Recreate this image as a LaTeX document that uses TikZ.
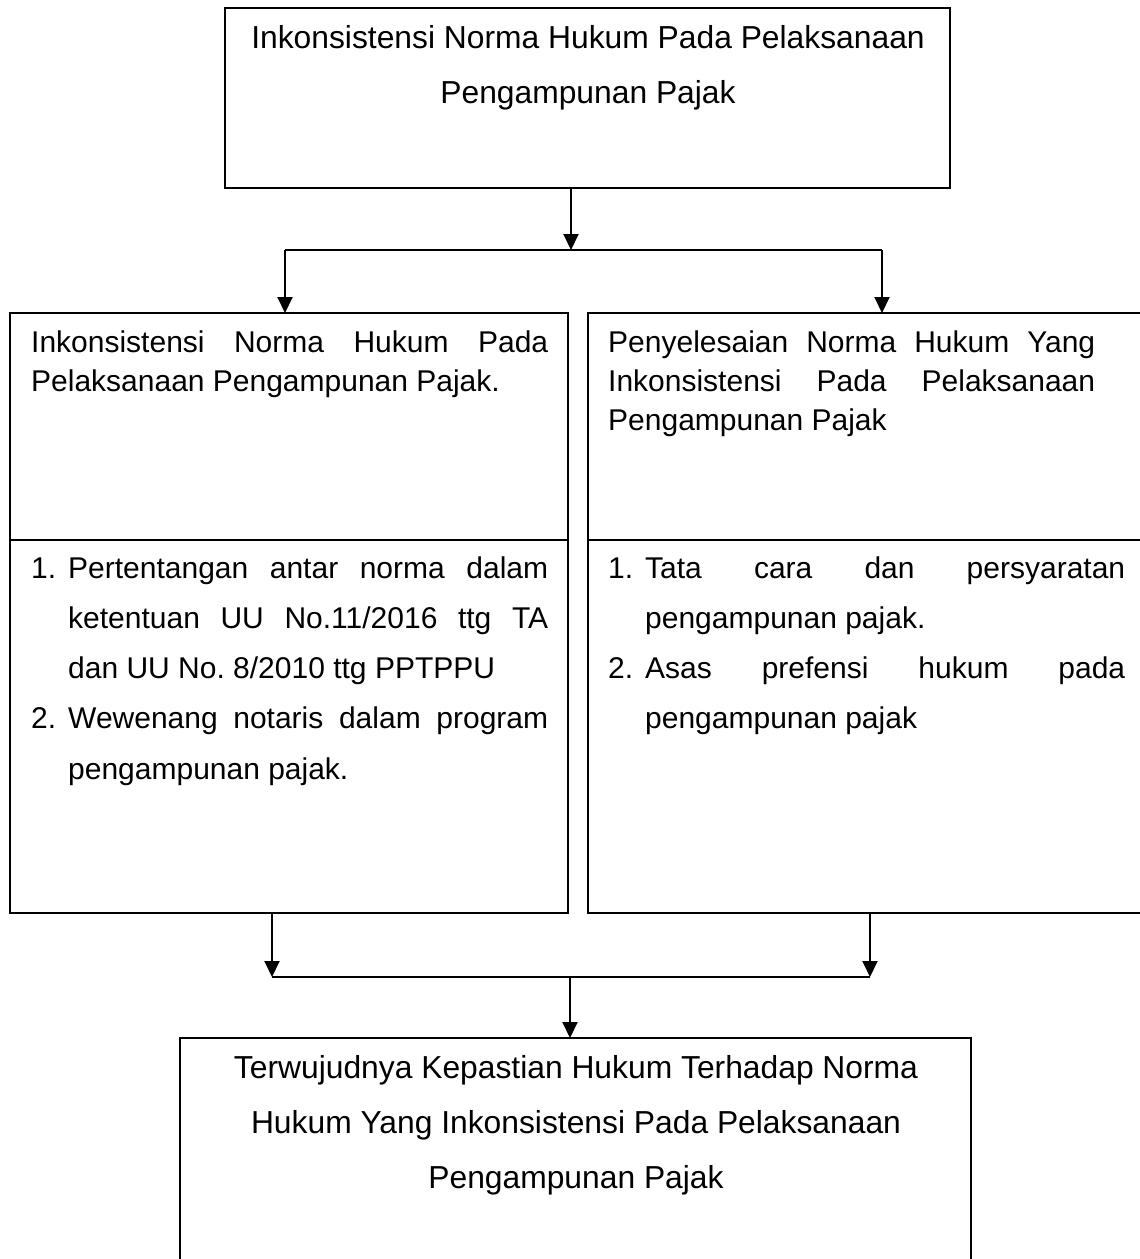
\documentclass[tikz,border=0pt]{standalone}
\usepackage{fontspec}
\setmainfont{Liberation Sans}
\usetikzlibrary{arrows.meta}
\frenchspacing
\newcommand\ctrline[1]{\hbox to 0pt{\hss #1\hss}}
\newcommand\numline[3]{\hbox{\hbox to 37pt{#1\hss}\hbox to #2{#3}}}
\begin{document}
\begin{tikzpicture}[x=1pt,y=-1pt,
  box/.style={draw, line width=2pt, rectangle, anchor=north west, inner sep=0pt, outer sep=0pt},
  conn/.style={line width=2pt},
  arr/.style={line width=2pt, -{Triangle[width=15pt,length=16pt]}},
  txt/.style={inner sep=0pt, anchor=base west, font=\fontsize{30}{38}\selectfont\frenchspacing},
  ctxt/.style={inner sep=0pt, anchor=base, font=\fontsize{31.8}{55}\selectfont\frenchspacing}]
\useasboundingbox (0,0) rectangle (1140,1259);

% boxes
\node[box, minimum width=725pt, minimum height=180pt] (top) at (225,8) {};
\node[box, minimum width=558pt, minimum height=600pt] (lbox) at (10,313) {};
\node[box, minimum width=570pt, minimum height=600pt] (rbox) at (588,313) {};
\node[box, minimum width=791pt, minimum height=260pt] (bot) at (180,1038) {};

% dividers
\coordinate (ldiv) at (10,540);
\coordinate (rdiv) at (588,540);
\draw[conn] (ldiv) -- (ldiv -| lbox.east);
\draw[conn] (rdiv) -- (rdiv -| rbox.east);

% connectors top
\coordinate (j1) at (571,250);
\coordinate (jl) at (285,250);
\coordinate (jr) at (882,250);
\draw[arr] (top.south -| j1) -- (j1);
\draw[conn] (jl) -- (jr);
\draw[arr] (jl) -- (jl |- lbox.north);
\draw[arr] (jr) -- (jr |- rbox.north);

% connectors bottom
\coordinate (j2) at (570,977);
\coordinate (kl) at (272,977);
\coordinate (kr) at (870,977);
\draw[arr] (lbox.south -| kl) -- (kl);
\draw[arr] (rbox.south -| kr) -- (kr);
\draw[conn] (kl) -- (kr);
\draw[arr] (j2) -- (j2 |- bot.north);

% texts
\node[ctxt] (ttop) at (588,48) {\vtop{\baselineskip=55pt
  \ctrline{Inkonsistensi Norma Hukum Pada Pelaksanaan}
  \ctrline{Pengampunan Pajak}}};

\node[txt] (lhead) at (31,352) {\vtop{\baselineskip=39pt
  \hbox to 517pt{Inkonsistensi\hfill Norma\hfill Hukum\hfill Pada}
  \hbox{Pelaksanaan Pengampunan Pajak.}}};

\node[txt] (rhead) at (608,352) {\vtop{\baselineskip=39pt
  \hbox to 487pt{Penyelesaian\hfill Norma\hfill Hukum\hfill Yang}
  \hbox to 487pt{Inkonsistensi\hfill Pada\hfill Pelaksanaan}
  \hbox{Pengampunan Pajak}}};

\node[txt] (llist) at (31,578) {\vtop{\baselineskip=50.3pt
  \numline{1.}{480pt}{Pertentangan\hfill antar\hfill norma\hfill dalam}
  \numline{}{480pt}{ketentuan\hfill UU\hfill No.11/2016\hfill ttg\hfill TA}
  \numline{}{480pt}{dan UU No. 8/2010 ttg PPTPPU\hfill}
  \numline{2.}{480pt}{Wewenang\hfill notaris\hfill dalam\hfill program}
  \numline{}{480pt}{pengampunan pajak.\hfill}}};

\node[txt] (rlist) at (608,578) {\vtop{\baselineskip=50.3pt
  \numline{1.}{480pt}{Tata\hfill cara\hfill dan\hfill persyaratan}
  \numline{}{480pt}{pengampunan pajak.\hfill}
  \numline{2.}{480pt}{Asas\hfill prefensi\hfill hukum\hfill pada}
  \numline{}{480pt}{pengampunan pajak\hfill}}};

\node[ctxt] (tbot) at (576,1078) {\vtop{\baselineskip=55pt
  \ctrline{Terwujudnya Kepastian Hukum Terhadap Norma}
  \ctrline{Hukum Yang Inkonsistensi Pada Pelaksanaan}
  \ctrline{Pengampunan Pajak}}};
\end{tikzpicture}
\end{document}
